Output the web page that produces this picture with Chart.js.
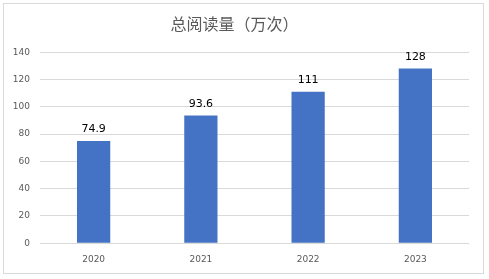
<!DOCTYPE html>
<html>
<head>
<meta charset="utf-8">
<script src="https://cdn.jsdelivr.net/npm/chart.js@4"></script>
<style>
  html, body { margin: 0; padding: 0; background: #fff; }
  #wrap { position: absolute; left: 0; top: 0; width: 489px; height: 279px; }
</style>
</head>
<body>
<div id="wrap"><canvas id="chart" width="489" height="279"></canvas></div>
<script>
const years = ['2020', '2021', '2022', '2023'];
const reads = [74.9, 93.6, 111, 128];
const yTicks = [0, 20, 40, 60, 80, 100, 120, 140];
const chartTitle = '总阅读量（万次）';

// frame around the whole chart, like the Excel chart border
const framePlugin = {
    id: 'frame',
    beforeDraw(chart) {
        const c = chart.ctx;
        c.save();
        c.fillStyle = '#fff';
        c.fillRect(0, 0, chart.width, chart.height);
        c.strokeStyle = '#d9d9d9';
        c.lineWidth = 1;
        c.strokeRect(3.5, 3.5, 480, 270);
        c.restore();
    }
};

// value labels above each bar
const valueLabels = {
    id: 'valueLabels',
    afterDatasetsDraw(chart) {
        const c = chart.ctx;
        const meta = chart.getDatasetMeta(0);
        c.save();
        c.font = '11px "DejaVu Sans", sans-serif';
        c.fillStyle = '#000';
        c.textAlign = 'center';
        c.textBaseline = 'bottom';
        meta.data.forEach((bar, i) => {
            c.fillText(String(chart.data.datasets[0].data[i]), bar.x, bar.y - 6);
        });
        c.restore();
    }
};

const ctx = document.getElementById('chart').getContext('2d');
new Chart(ctx, {
    type: 'bar',
    data: {
        labels: years,
        datasets: [{
            data: reads,
            backgroundColor: '#4472C4',
            borderWidth: 0,
            barPercentage: 0.31,
            categoryPercentage: 1
        }]
    },
    options: {
        responsive: false,
        animation: false,
        layout: { padding: { left: 0, right: 20, top: 0, bottom: 11 } },
        plugins: {
            legend: { display: false },
            tooltip: { enabled: false },
            title: {
                display: true,
                text: chartTitle,
                color: '#595959',
                font: { family: '"Noto Sans CJK SC", sans-serif', size: 16, weight: 'normal' },
                padding: { top: 14, bottom: 19 }
            }
        },
        scales: {
            x: {
                grid: { display: false },
                border: { display: false },
                ticks: {
                    color: '#595959',
                    font: { family: '"DejaVu Sans", sans-serif', size: 9 },
                    padding: 3
                }
            },
            y: {
                min: 0,
                max: 140,
                afterBuildTicks(scale) {
                    scale.ticks = yTicks.map(v => ({ value: v }));
                },
                afterFit(scale) { scale.width = 40; },
                grid: { color: '#d9d9d9', drawTicks: false },
                border: { display: false },
                ticks: {
                    color: '#595959',
                    font: { family: '"DejaVu Sans", sans-serif', size: 9 },
                    padding: 10
                }
            }
        }
    },
    plugins: [framePlugin, valueLabels]
});
</script>
</body>
</html>
